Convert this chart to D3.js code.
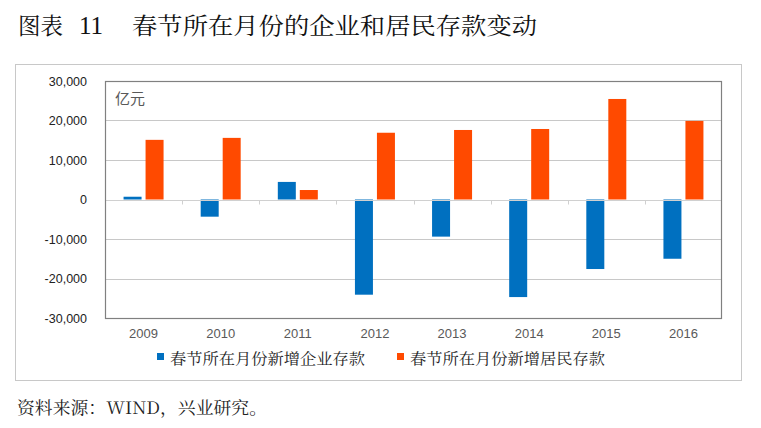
<!DOCTYPE html>
<html>
<head>
<meta charset="utf-8">
<script src="https://cdn.jsdelivr.net/npm/d3@7"></script>
<style>
  body { margin: 0; background: #fff; }
  svg { display: block; }
</style>
</head>
<body>
<svg id="chart" width="761" height="428"></svg>
<script>
// data (unit: 亿元)
const years = ["2009", "2010", "2011", "2012", "2013", "2014", "2015", "2016"];
const corpDeposits = [700, -4350, 4450, -24100, -9400, -24700, -17600, -15000];
const houseDeposits = [15100, 15600, 2400, 16900, 17600, 17850, 25450, 19900];
const yTicks = [-30000, -20000, -10000, 0, 10000, 20000, 30000];
const seriesNames = ["春节所在月份新增企业存款", "春节所在月份新增居民存款"];
const colors = ["#0070c0", "#ff4a00"];

const svg = d3.select("#chart");
const cjkSerif = "'Noto Serif CJK SC', 'Noto Sans CJK SC', serif";
const plot = { left: 105, right: 722, top: 81, bottom: 318 };

// title
const title = svg.append("g").attr("font-family", cjkSerif).attr("fill", "#111").attr("font-size", 23);
title.append("text").attr("x", 18).attr("y", 34).attr("textLength", 45).attr("lengthAdjust", "spacingAndGlyphs").text("图表");
title.append("text").attr("x", 79).attr("y", 34).attr("font-family", "'Liberation Serif', serif").attr("font-size", 25).text("11");
title.append("text").attr("x", 132).attr("y", 34).attr("textLength", 405).attr("lengthAdjust", "spacingAndGlyphs")
  .text("春节所在月份的企业和居民存款变动");

// outer frame
svg.append("rect").attr("x", 15.5).attr("y", 64.5).attr("width", 726).attr("height", 316)
  .attr("fill", "none").attr("stroke", "#c8c8c8");

const x = d3.scaleBand().domain(years).range([plot.left, plot.right]);
const y = d3.scaleLinear().domain([-30000, 30000]).range([plot.bottom, plot.top]);

// gridlines
svg.append("g").selectAll("line").data(yTicks.filter(d => d !== 0 && Math.abs(d) !== 30000)).join("line")
  .attr("x1", plot.left).attr("x2", plot.right)
  .attr("y1", d => Math.round(y(d)) + 0.5).attr("y2", d => Math.round(y(d)) + 0.5)
  .attr("stroke", "#c8c8c8");

// y axis labels
const yAxis = d3.axisLeft(y).tickValues(yTicks).tickSize(0).tickPadding(0)
  .tickFormat(d => d3.format(",")(d).replace("−", "-"));
svg.append("g").attr("transform", `translate(87,0)`).call(yAxis)
  .call(g => g.select(".domain").remove())
  .selectAll("text").attr("font-family", "'Liberation Sans', Arial, sans-serif")
  .attr("font-size", 12.5).attr("fill", "#222");

// bars
const bw = 18, gap = 4;
const series = [corpDeposits, houseDeposits];
series.forEach((vals, si) => {
  svg.append("g").selectAll("rect").data(years).join("rect")
    .attr("x", (d) => x(d) + x.bandwidth() / 2 - bw - gap / 2 + si * (bw + gap))
    .attr("width", bw)
    .attr("y", (d, i) => y(Math.max(0, vals[i])))
    .attr("height", (d, i) => Math.abs(y(vals[i]) - y(0)))
    .attr("fill", colors[si]);
});

// zero line with category ticks
const y0 = Math.round(y(0)) + 0.5;
svg.append("line").attr("x1", plot.left).attr("x2", plot.right).attr("y1", y0).attr("y2", y0).attr("stroke", "#d0d0d0");
svg.append("g").selectAll("line").data(years.slice(1)).join("line")
  .attr("x1", d => Math.round(x(d)) + 0.5).attr("x2", d => Math.round(x(d)) + 0.5)
  .attr("y1", y0).attr("y2", y0 + 4).attr("stroke", "#d0d0d0");

// plot border
svg.append("rect").attr("x", plot.left + 0.5).attr("y", plot.top + 0.5)
  .attr("width", plot.right - plot.left - 1).attr("height", plot.bottom - plot.top)
  .attr("fill", "none").attr("stroke", "#808080").attr("stroke-width", 1.2);

// x axis labels
const xAxis = d3.axisBottom(x).tickSize(0).tickPadding(0);
svg.append("g").attr("transform", `translate(0,${plot.bottom + 11})`).call(xAxis)
  .call(g => g.select(".domain").remove())
  .selectAll("text").attr("font-family", "'Liberation Sans Narrow', 'Liberation Sans', Arial, sans-serif")
  .attr("font-size", 13).attr("fill", "#595959");

// unit label
svg.append("text").attr("x", 115).attr("y", 104).attr("font-family", "'Noto Sans CJK SC', sans-serif")
  .attr("font-size", 15).attr("fill", "#595959").text("亿元");

// legend
const legendX = [157, 397];
seriesNames.forEach((name, i) => {
  svg.append("rect").attr("x", legendX[i]).attr("y", 353).attr("width", 7).attr("height", 7).attr("fill", colors[i]);
  svg.append("text").attr("x", legendX[i] + 13).attr("y", 364).attr("font-family", cjkSerif)
    .attr("font-size", 15).attr("fill", "#222")
    .attr("textLength", 195).attr("lengthAdjust", "spacingAndGlyphs").text(name);
});

// source
svg.append("text").attr("x", 17).attr("y", 414).attr("font-family", cjkSerif).attr("font-size", 17)
  .attr("fill", "#222").attr("textLength", 250).attr("lengthAdjust", "spacingAndGlyphs")
  .text("资料来源：WIND，兴业研究。");
</script>
</body>
</html>
